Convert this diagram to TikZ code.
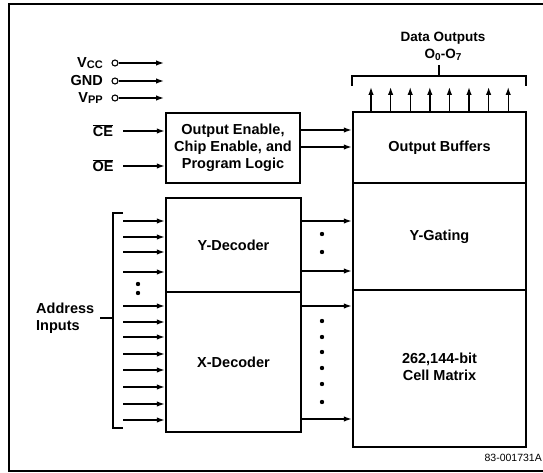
\documentclass[tikz,border=0pt]{standalone}
\usepackage{fontspec}
\setmainfont{Liberation Sans}
\usetikzlibrary{arrows.meta}
\begin{document}
\begin{tikzpicture}[x=1pt,y=-1pt,
  font=\bfseries\fontsize{14.5}{17}\selectfont,
  blk/.style={draw,line width=2.4pt,inner sep=0pt,align=center},
  arr/.style={line width=1.4pt,-{Latex[length=8pt,width=5.5pt]}},
  brk/.style={line width=1.3pt},
  dotm/.style={circle,fill,inner sep=0pt,minimum size=4.4pt},
  pin/.style={circle,draw,line width=1.1pt,inner sep=0pt,minimum size=6pt},
  lbl/.style={inner sep=0pt}]
\useasboundingbox (0,0) rectangle (543,473);
% frame
\draw[line width=2.2pt] (543,4) -- (9,4) -- (9,471) -- (543,471);

% blocks
\node[blk,minimum width=134pt,minimum height=70pt] (ctrl) at (233,148) {Output Enable,\\Chip Enable, and\\Program Logic};
\node[blk,minimum width=173pt,minimum height=71pt] (outbuf) at (439.5,147.5) {Output Buffers};
\node[blk,minimum width=173pt,minimum height=107pt] (ygate) at (439.5,236.5) {Y-Gating};
\node[blk,minimum width=173pt,minimum height=157pt] (cell) at (439.5,368.5) {\raisebox{3pt}{\begin{tabular}{@{}c@{}}262,144-bit\\Cell Matrix\end{tabular}}};
\node[blk,minimum width=135pt,minimum height=94pt] (ydec) at (233.5,245) {Y-Decoder};
\node[blk,minimum width=135pt,minimum height=140pt] (xdec) at (233.5,362) {X-Decoder};

% data outputs
\foreach \i in {0,...,7}{
  \coordinate (ot\i) at (371+19.6*\i,87);
  \draw[arr] (ot\i |- outbuf.north) -- (ot\i);
}
\coordinate (bl) at (352,86);
\coordinate (br) at (526,86);
\coordinate (bs) at (439,65);
\draw[brk] (bl) -- (352,76) -- (526,76) -- (br);
\draw[brk] (439,76) -- (bs);
\node[lbl,font=\bfseries\fontsize{13.5}{16}\selectfont] (dout) at (443,38) {Data Outputs};
\node[lbl,font=\bfseries\fontsize{13.5}{16}\selectfont] (dlab) at (443,55) {O\raisebox{-2pt}{\fontsize{10}{10}\selectfont 0}-O\raisebox{-2pt}{\fontsize{10}{10}\selectfont 7}};

% power pins
\node[lbl,anchor=east] (vcc) at (103,63) {V\raisebox{-1.5pt}{\fontsize{11}{10}\selectfont CC}};
\node[lbl,anchor=east] (gnd) at (103,81) {GND};
\node[lbl,anchor=east] (vpp) at (103,98) {V\raisebox{-1.5pt}{\fontsize{11}{10}\selectfont PP}};
\node[pin] (pvcc) at (115,63) {};
\node[pin] (pgnd) at (115,81) {};
\node[pin] (pvpp) at (115,98) {};
\coordinate (tvcc) at (164,63);
\coordinate (tgnd) at (164,81);
\coordinate (tvpp) at (164,98);
\draw[arr] (pvcc) -- (tvcc);
\draw[arr] (pgnd) -- (tgnd);
\draw[arr] (pvpp) -- (tvpp);

% CE / OE
\node[lbl] (ce) at (103,131) {$\overline{\mbox{CE}}$};
\node[lbl] (oe) at (103,166) {$\overline{\mbox{OE}}$};
\draw[arr] (123,131) -- (ctrl.west |- 0,131);
\draw[arr] (123,166) -- (ctrl.west |- 0,166);

% control to output buffers
\draw[arr] (ctrl.east |- 0,130) -- (outbuf.west |- 0,130);
\draw[arr] (ctrl.east |- 0,147) -- (outbuf.west |- 0,147);

% address inputs
\foreach \y in {221,237,252,272}{
  \draw[arr] (123,\y) -- (ydec.west |- 0,\y);
}
\foreach \y in {306,322,337,354,370,387,404,420}{
  \draw[arr] (123,\y) -- (xdec.west |- 0,\y);
}
\node[dotm] (ad1) at (138,284) {};
\node[dotm] (ad2) at (138,293) {};
\draw[brk] (123,213) -- (113,213) -- (113,428) -- (123,428);
\node[lbl,anchor=west,align=left] (addr) at (36,318) {Address\\Inputs};
\draw[brk] (100,318) -- (113,318);

% decoder to matrix
\foreach \y in {221,271}{
  \draw[arr] (ydec.east |- 0,\y) -- (ygate.west |- 0,\y);
}
\foreach \y in {306,419}{
  \draw[arr] (xdec.east |- 0,\y) -- (cell.west |- 0,\y);
}
\foreach \y in {234,252,321,337,352,368,384,402}{
  \node[dotm] at (322,\y) {};
}

\node[lbl,anchor=east,font=\fontsize{10.5}{12}\selectfont] (ref) at (542,458) {83-001731A};
\end{tikzpicture}
\end{document}
